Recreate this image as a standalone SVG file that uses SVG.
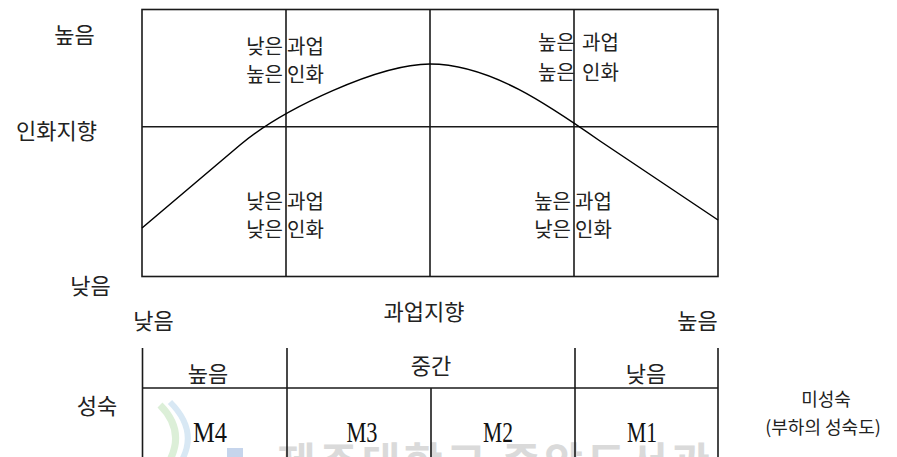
<svg xmlns="http://www.w3.org/2000/svg" width="897" height="457" viewBox="0 0 897 457">
<style>
.ln{stroke:#1a1a1a;stroke-width:1.6;fill:none}
.cv{stroke:#000;stroke-width:1.5;fill:none}
.t{font-family:"Noto Sans CJK KR","Noto Sans",sans-serif;fill:#222;font-size:22px}
.q{font-family:"Noto Sans CJK KR","Noto Sans",sans-serif;fill:#222;font-size:20px}
.s{font-family:"Noto Sans CJK KR","Noto Sans",sans-serif;fill:#222;font-size:18px;text-anchor:middle}
.m{font-family:"Liberation Serif","Times New Roman",serif;fill:#111;font-size:29px;text-anchor:middle}
.c{text-anchor:middle}
.e{text-anchor:end}
</style>
<rect width="897" height="457" fill="#fff"/>
<g id="watermark">
<path d="M160,405 Q185,430 170,460" stroke="#dcefd8" stroke-width="7" fill="none"/>
<path d="M170,402 Q198,430 182,460" stroke="#d8e8f4" stroke-width="6" fill="none"/>
<rect x="227" y="448" width="16" height="12" fill="#c6d5ec"/>
<text x="277" y="478" font-family="'Noto Sans CJK KR',sans-serif" font-size="42" font-weight="bold" fill="#dadada" textLength="433" lengthAdjust="spacing">제주대학교 중앙도서관</text>
</g>
<g id="grid">
<rect class="ln" x="142" y="9.5" width="576" height="267"/>
<line class="ln" x1="142" y1="126.7" x2="718" y2="126.7"/>
<line class="ln" x1="286" y1="9.5" x2="286" y2="276.5"/>
<line class="ln" x1="430" y1="9.5" x2="430" y2="276.5"/>
<line class="ln" x1="574" y1="9.5" x2="574" y2="276.5"/>
</g>
<g id="curve">
<path class="cv" d="M142,228 L240,145 C284,108 380,64 430,64 C490,64 550,106 600,141 L718,220"/>
</g>
<g id="axis-labels">
<text class="t c" x="74.5" y="43">높음</text>
<text class="t c" x="56.5" y="139">인화지향</text>
<text class="t c" x="90.5" y="294">낮음</text>
<text class="t c" x="153.5" y="329">낮음</text>
<text class="t c" x="424" y="320">과업지향</text>
<text class="t c" x="697.5" y="329">높음</text>
</g>
<g id="q-top-left">
<text class="q e" x="283" y="54">낮은</text><text class="q" x="287" y="54">과업</text>
<text class="q e" x="283" y="82">높은</text><text class="q" x="287" y="82">인화</text>
</g>
<g id="q-top-right">
<text class="q" x="538" y="50">높은</text><text class="q" x="582" y="50">과업</text>
<text class="q" x="538" y="80">높은</text><text class="q" x="582" y="80">인화</text>
</g>
<g id="q-bottom-left">
<text class="q e" x="283" y="209">낮은</text><text class="q" x="287" y="209">과업</text>
<text class="q e" x="283" y="237">낮은</text><text class="q" x="287" y="237">인화</text>
</g>
<g id="q-bottom-right">
<text class="q e" x="571" y="209">높은</text><text class="q" x="575" y="209">과업</text>
<text class="q e" x="571" y="237">낮은</text><text class="q" x="575" y="237">인화</text>
</g>
<g id="maturity-table">
<line class="ln" x1="142.5" y1="348" x2="142.5" y2="457"/>
<line class="ln" x1="287" y1="348" x2="287" y2="457"/>
<line class="ln" x1="575" y1="348" x2="575" y2="457"/>
<line class="ln" x1="718" y1="348" x2="718" y2="457"/>
<line class="ln" x1="431" y1="388" x2="431" y2="457"/>
<line class="ln" x1="142.5" y1="388" x2="718" y2="388"/>
<text class="t c" x="208" y="382">높음</text>
<text class="t c" x="431" y="374">중간</text>
<text class="t c" x="646" y="382">낮음</text>
<text class="t c" x="97" y="414">성숙</text>
<text class="m" x="210" y="442" textLength="34" lengthAdjust="spacingAndGlyphs">M4</text>
<text class="m" x="362" y="442" textLength="31" lengthAdjust="spacingAndGlyphs">M3</text>
<text class="m" x="498" y="442" textLength="30" lengthAdjust="spacingAndGlyphs">M2</text>
<text class="m" x="642" y="442" textLength="30" lengthAdjust="spacingAndGlyphs">M1</text>
<text class="s" x="826" y="406">미성숙</text>
<text class="s" x="823" y="434">(부하의 성숙도)</text>
</g>
</svg>
